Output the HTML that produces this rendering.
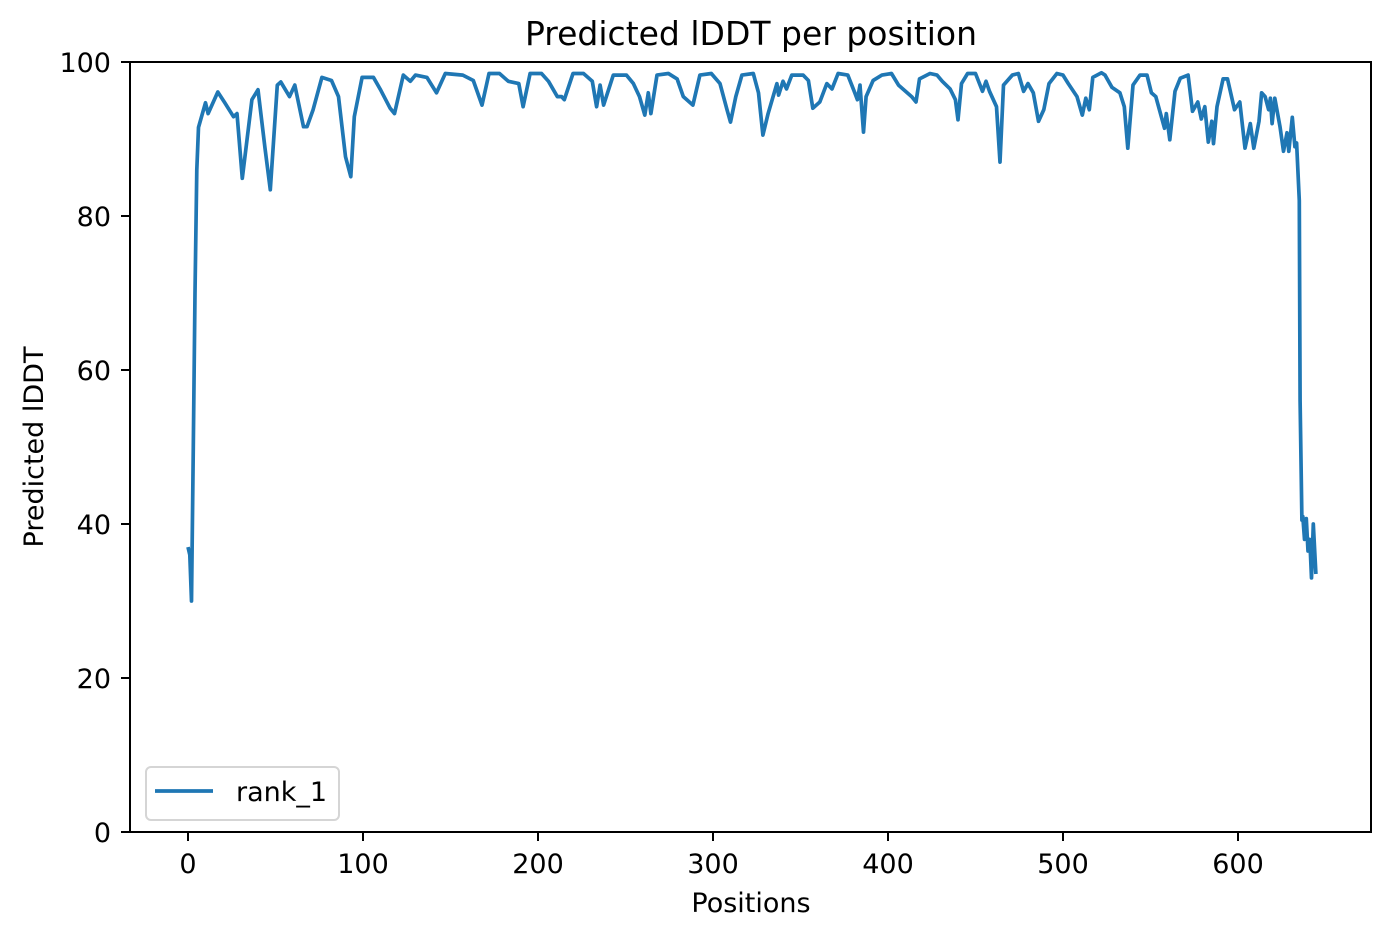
<!DOCTYPE html>
<html><head><meta charset="utf-8"><style>
body{margin:0;background:#fff}
svg text{font-family:"DejaVu Sans","Liberation Sans",sans-serif;fill:#000}
</style></head><body>
<svg id="chart" width="1391" height="939" xmlns="http://www.w3.org/2000/svg">
<text x="751" y="45" font-size="33" text-anchor="middle">Predicted lDDT per position</text>
<text x="751" y="912" font-size="27" text-anchor="middle">Positions</text>
<text x="43" y="447" font-size="27" text-anchor="middle" transform="rotate(-90 43 447)">Predicted lDDT</text>
<g id="ticks"></g>
<path id="series" fill="none" stroke="#1f77b4" stroke-width="3.7" stroke-linejoin="round"/>
<rect x="130" y="62" width="1241" height="770" fill="none" stroke="#000" stroke-width="2"/>
<g>
<rect x="146" y="767" width="193" height="53" rx="5" fill="#fff" stroke="#d5d5d5" stroke-width="2"/>
<line x1="155" y1="791" x2="213" y2="791" stroke="#1f77b4" stroke-width="3.7"/>
<text x="236" y="801" font-size="27">rank_1</text>
</g>
</svg>
<script>
const positions=[0,1,2,3,4,5,6,10,11.5,17,21,26,28,31,36.5,40,44,47,51,53,58,61,66,68,71.5,76.5,82,86,90,93,95,99.5,106,110,115.5,118,123,127,130,136.5,142,147,157,163,168,172,178,183,189,191.5,195.5,202,206,211,213.5,215,220,226,231,233.5,235.5,237.5,243,250.5,254.5,258,261,263,264.5,268,274.5,279.5,283,288.5,292.5,299,304,308,310,313,316.5,323,326,328.5,331.5,336.5,337.5,340,342,345,351.5,354.5,357,361,365,368,371.5,377,381,382.5,384,386,387.5,391.5,396.5,402,406,413.5,416,418,424,428,431,435.5,438.5,440,442,445.5,450,454,456,458,462,464,466,471,474.5,477.5,480,483,486,489,492,496.5,500,503,508,511,513,515,517,522,524,528,532.5,535,537,540,544,548,550.5,553,558,559,561,564,567,571.5,574,577,579,581,583,585,586,588,591.5,594,598,601,604,607,609,612,613.5,615.5,617.5,618.5,619.5,621,624,626,628,629,631,632.5,633.5,635,635.5,636.5,637,638,639,640,641,642,643,644.5];
const plddt=[37,36,30,50,70,86,91.5,94.7,93.3,96.1,94.7,92.9,93.3,84.9,95.1,96.4,88.8,83.4,97,97.4,95.5,97,91.6,91.6,93.8,98,97.6,95.5,87.7,85.1,92.9,98,98,96.4,94,93.3,98.3,97.5,98.3,98,96,98.5,98.3,97.6,94.4,98.5,98.5,97.5,97.2,94.2,98.5,98.5,97.5,95.5,95.5,95.1,98.5,98.5,97.5,94.2,97,94.4,98.3,98.3,97.2,95.5,93.1,96,93.3,98.3,98.5,97.8,95.5,94.4,98.3,98.5,97.2,93.8,92.2,95.5,98.3,98.5,96,90.5,93.3,97.2,95.7,97.5,96.5,98.3,98.3,97.6,94,94.8,97.2,96.5,98.5,98.3,96,95.1,97,90.9,95.5,97.6,98.3,98.5,97,95.5,94.8,97.8,98.5,98.3,97.5,96.5,95.1,92.5,97.2,98.5,98.5,96.2,97.5,96.2,94.2,87,97,98.3,98.5,96.2,97.2,96,92.3,93.8,97.2,98.5,98.3,97.2,95.5,93.1,95.3,93.8,98,98.6,98.3,96.7,96,94.2,88.8,97,98.3,98.3,96,95.5,91.4,93.3,89.9,96.2,97.9,98.3,93.6,94.8,92.6,94.2,89.6,92.3,89.4,94.2,97.8,97.8,93.8,94.8,88.8,92,88.8,92.3,96,95.5,93.8,95.3,92,95.3,91.6,88.4,90.8,88.4,92.8,89,89.5,82,56,40.5,41,38,40.7,36.5,38,33,40,33.5];
const xTicks=[0,100,200,300,400,500,600];
const yTicks=[0,20,40,60,80,100];
const xs=v=>188+v*1.75;
const ys=v=>832-v*7.7;
const NS="http://www.w3.org/2000/svg";
const tg=document.getElementById('ticks');
function mk(tag,attrs){const e=document.createElementNS(NS,tag);for(const k in attrs)e.setAttribute(k,attrs[k]);return e;}
xTicks.forEach(t=>{
 const l=mk('line',{x1:xs(t),x2:xs(t),y1:832,y2:841,stroke:'#000','stroke-width':2});
 
 
 tg.appendChild(l);
 const tx=mk('text',{x:xs(t),y:873,'font-size':27,'text-anchor':'middle'});
 
 
 tx.textContent=t;tg.appendChild(tx);
});
yTicks.forEach(t=>{
 const l=mk('line',{x1:121,x2:130,y1:ys(t),y2:ys(t),stroke:'#000','stroke-width':2});
 
 
 tg.appendChild(l);
 const tx=mk('text',{x:111,y:ys(t)+10,'font-size':27,'text-anchor':'end'});
 
 
 tx.textContent=t;tg.appendChild(tx);
});
document.getElementById('series').setAttribute('d',positions.map((p,i)=>(i?'L':'M')+xs(p).toFixed(1)+' '+ys(plddt[i]).toFixed(1)).join(' '));
</script>
</body></html>
